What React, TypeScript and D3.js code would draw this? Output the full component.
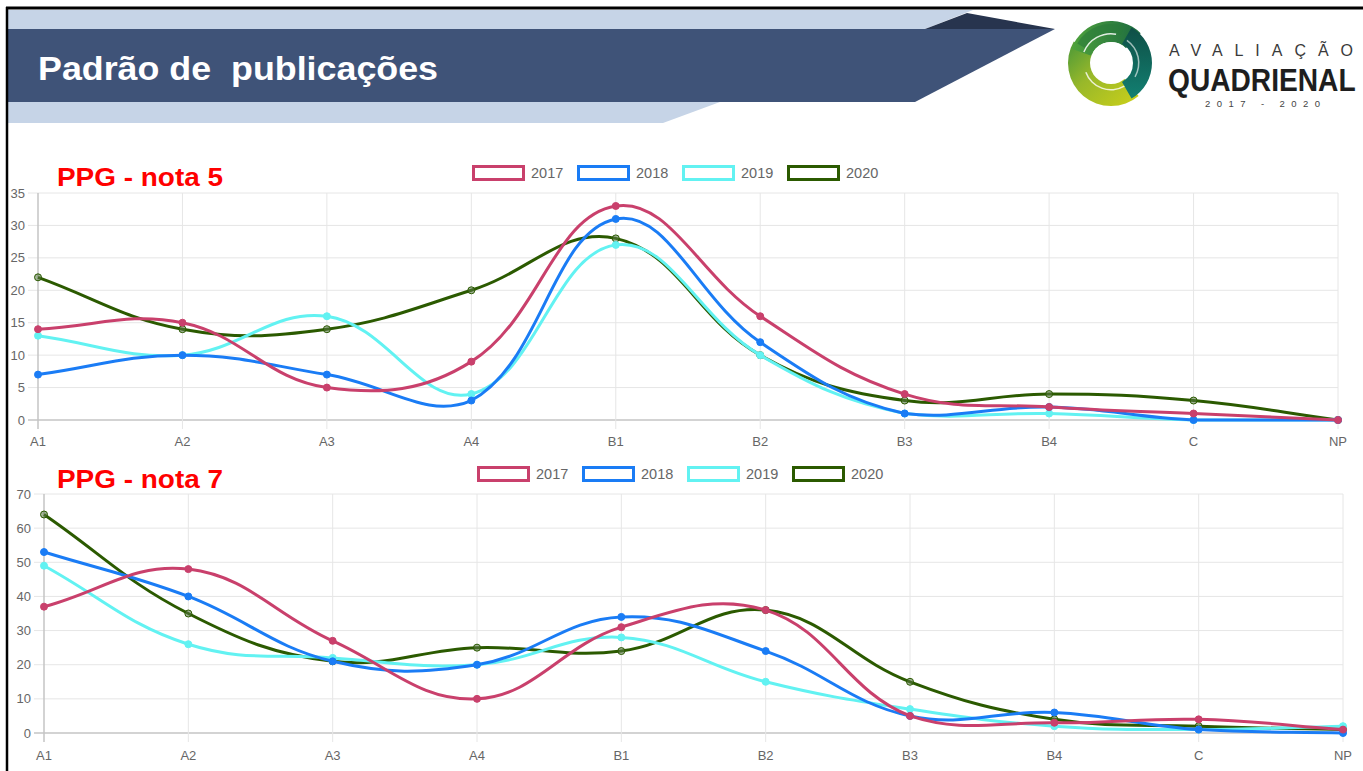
import React from "react";
import * as d3 from "d3";

const categories = ["A1", "A2", "A3", "A4", "B1", "B2", "B3", "B4", "C", "NP"];
const years = ["2017", "2018", "2019", "2020"];
const seriesColors = ["#c9406c", "#1a7cf5", "#62f2f2", "#2b5a00"];
const pointFills = ["#c9406c", "#1a7cf5", "#62f2f2", "rgba(90,120,70,0.55)"];

// PPG - nota 5
const nota5_2017 = [14, 15, 5, 9, 33, 16, 4, 2, 1, 0];
const nota5_2018 = [7, 10, 7, 3, 31, 12, 1, 2, 0, 0];
const nota5_2019 = [13, 10, 16, 4, 27, 10, 1, 1, 0, 0];
const nota5_2020 = [22, 14, 14, 20, 28, 10, 3, 4, 3, 0];
const nota5Ticks = [0, 5, 10, 15, 20, 25, 30, 35];

// PPG - nota 7
const nota7_2017 = [37, 48, 27, 10, 31, 36, 5, 3, 4, 1];
const nota7_2018 = [53, 40, 21, 20, 34, 24, 5, 6, 1, 0];
const nota7_2019 = [49, 26, 22, 20, 28, 15, 7, 2, 1, 2];
const nota7_2020 = [64, 35, 21, 25, 24, 36, 15, 4, 2, 1];
const nota7Ticks = [0, 10, 20, 30, 40, 50, 60, 70];

const FONT = "'Liberation Sans', Arial, Helvetica, sans-serif";

type Pt = [number, number];

function chartjsPath(pts: Pt[], t: number, box: { l: number; r: number; t: number; b: number }) {
  const cps = pts.map((cur, i) => {
    const prev = pts[i - 1] ?? cur;
    const next = pts[i + 1] ?? cur;
    const d01 = Math.hypot(cur[0] - prev[0], cur[1] - prev[1]);
    const d12 = Math.hypot(next[0] - cur[0], next[1] - cur[1]);
    let s01 = d01 / (d01 + d12);
    let s12 = d12 / (d01 + d12);
    if (isNaN(s01)) s01 = 0;
    if (isNaN(s12)) s12 = 0;
    const fa = t * s01;
    const fb = t * s12;
    const clampX = (x: number) => Math.max(box.l, Math.min(box.r, x));
    const clampY = (y: number) => Math.max(box.t, Math.min(box.b, y));
    return {
      prev: [clampX(cur[0] - fa * (next[0] - prev[0])), clampY(cur[1] - fa * (next[1] - prev[1]))] as Pt,
      next: [clampX(cur[0] + fb * (next[0] - prev[0])), clampY(cur[1] + fb * (next[1] - prev[1]))] as Pt,
    };
  });
  const p = d3.path();
  p.moveTo(pts[0][0], pts[0][1]);
  for (let i = 1; i < pts.length; i++) {
    p.bezierCurveTo(cps[i - 1].next[0], cps[i - 1].next[1], cps[i].prev[0], cps[i].prev[1], pts[i][0], pts[i][1]);
  }
  return p.toString();
}

type ChartProps = {
  title: string;
  data: number[][];
  ticks: number[];
  left: number;
  right: number;
  top: number;
  bottom: number;
  titleY: number;
  legendY: number;
  legendX: number;
  xLabelY: number;
};

function LineChart({ title, data, ticks, left, right, top, bottom, titleY, legendY, legendX, xLabelY }: ChartProps) {
  const x = d3.scalePoint<string>().domain(categories).range([left, right]);
  const y = d3.scaleLinear().domain([0, d3.max(ticks) as number]).range([bottom, top]);
  const box = { l: left, r: right, t: top, b: bottom };
  const order = [3, 2, 1, 0];
  return (
    <g>
      {ticks.map((tv) => (
        <line key={"h" + tv} x1={left - 10} x2={right} y1={y(tv)} y2={y(tv)}
          stroke={tv === 0 ? "#c4c4c4" : "#e6e6e6"} strokeWidth={tv === 0 ? 1.5 : 1} />
      ))}
      {categories.map((c, i) => (
        <line key={"v" + c} x1={x(c)} x2={x(c)} y1={top} y2={bottom + 9}
          stroke={i === 0 ? "#c4c4c4" : "#e6e6e6"} strokeWidth={i === 0 ? 1.5 : 1} />
      ))}
      {ticks.map((tv) => (
        <text key={"yt" + tv} x={left - 13} y={y(tv)} dy="0.35em" textAnchor="end"
          fontFamily={FONT} fontSize={13} fill="#666">{tv}</text>
      ))}
      {categories.map((c) => (
        <text key={"xt" + c} x={x(c)} y={xLabelY} textAnchor="middle"
          fontFamily={FONT} fontSize={13} fill="#666">{c}</text>
      ))}
      {order.map((si) => {
        const pts: Pt[] = data[si].map((v, i) => [x(categories[i]) as number, y(v)]);
        return (
          <g key={"s" + si}>
            <path d={chartjsPath(pts, 0.4, box)} fill="none" stroke={seriesColors[si]} strokeWidth={3} />
            {pts.map((p, i) => (
              <circle key={i} cx={p[0]} cy={p[1]} r={3.5} fill={pointFills[si]}
                stroke={seriesColors[si]} strokeWidth={1} />
            ))}
          </g>
        );
      })}
      {years.map((yr, i) => (
        <g key={yr} transform={`translate(${legendX + i * 105},${legendY})`}>
          <rect x={1.5} y={1.5} width={50} height={13} fill="#fff" stroke={seriesColors[i]} strokeWidth={3} />
          <text x={59} y={8} dy="0.36em" fontFamily={FONT} fontSize={14.5} fill="#666">{yr}</text>
        </g>
      ))}
      <text x={57} y={titleY} fontFamily={FONT} fontWeight="bold" fontSize={26} fill="#ff0000"
        textLength={166} lengthAdjust="spacingAndGlyphs">{title}</text>
    </g>
  );
}

function Logo() {
  const cx = 1111, cy = 63;
  const arc = d3.arc();
  const seg = (a0: number, a1: number, r0: number, r1: number) =>
    arc({ innerRadius: r0, outerRadius: r1, startAngle: (a0 * Math.PI) / 180, endAngle: (a1 * Math.PI) / 180 }) as string;
  return (
    <g transform={`translate(${cx},${cy})`}>
      <defs>
        <linearGradient id="gGreen" x1="0" y1="0.5" x2="1" y2="0.5">
          <stop offset="0" stopColor="#4fa33c" />
          <stop offset="1" stopColor="#1c6a40" />
        </linearGradient>
        <linearGradient id="gTeal" x1="0" y1="0" x2="0" y2="1">
          <stop offset="0" stopColor="#0f4f46" />
          <stop offset="1" stopColor="#128072" />
        </linearGradient>
        <linearGradient id="gYellow" x1="0.8" y1="1" x2="0" y2="0.2">
          <stop offset="0" stopColor="#c3cc1c" />
          <stop offset="0.6" stopColor="#98b82a" />
          <stop offset="1" stopColor="#5b9f35" />
        </linearGradient>
      </defs>
      <path d={seg(140, 300, 20, 43)} fill="url(#gYellow)" />
      <path d={seg(-70, 45, 21, 42)} fill="url(#gGreen)" />
      <path d={seg(30, 150, 22, 41)} fill="url(#gTeal)" />
      <path d={seg(-60, 20, 30, 39)} fill="#2a7a3a" opacity={0.6} />
      <circle r={21} fill="#fff" />
      <path d={seg(-68, 10, 28.5, 30)} fill="#fff" opacity={0.85} />
      <path d={seg(35, 120, 27, 28.5)} fill="#fff" opacity={0.6} />
      <path d={seg(150, 250, 26, 27.5)} fill="#fff" opacity={0.8} />
    </g>
  );
}

export default function App() {
  const nota5 = [nota5_2017, nota5_2018, nota5_2019, nota5_2020];
  const nota7 = [nota7_2017, nota7_2018, nota7_2019, nota7_2020];
  return (
    <div style={{ position: "absolute", left: 0, top: 0 }}>
      <svg width={1363} height={771} style={{ display: "block", background: "#fff" }}>
        <polygon points="8,10 973,10 925,29 8,29" fill="#c6d4e7" />
        <polygon points="925,29 967,13 1055,29" fill="#27344e" />
        <polygon points="8,29 1055,29 915,102 8,102" fill="#3f5378" />
        <polygon points="8,102 720,102 663,123 8,123" fill="#c6d4e7" />
        <text x={38} y={80} fontFamily={FONT} fontWeight="bold" fontSize={33} fill="#fff"
          textLength={400} lengthAdjust="spacingAndGlyphs" style={{ whiteSpace: "pre" }}>{"Padrão de  publicações"}</text>
        <line x1={6} x2={1363} y1={8} y2={8} stroke="#000" strokeWidth={3} />
        <line x1={7} x2={7} y1={7} y2={771} stroke="#000" strokeWidth={2.5} />

        <Logo />
        <text x={1169} y={56} fontFamily={FONT} fontSize={16} fill="#3a3a3a"
          textLength={184} lengthAdjust="spacing">AVALIAÇÃO</text>
        <g transform="translate(1168,91) scale(0.88,1)">
          <text x={0} y={0} fontFamily={FONT} fontWeight="bold" fontSize={32} fill="#1e1e1e">QUADRIENAL</text>
        </g>
        <text x={1205} y={107} fontFamily={FONT} fontSize={9.5} fill="#444"
          textLength={115} lengthAdjust="spacing">2017 - 2020</text>

        <LineChart title="PPG - nota 5" data={nota5} ticks={nota5Ticks}
          left={38} right={1338} top={193} bottom={420}
          titleY={186} legendY={165} legendX={472} xLabelY={446} />
        <LineChart title="PPG - nota 7" data={nota7} ticks={nota7Ticks}
          left={44} right={1343} top={494} bottom={733}
          titleY={488} legendY={466} legendX={477} xLabelY={760} />
      </svg>
    </div>
  );
}
